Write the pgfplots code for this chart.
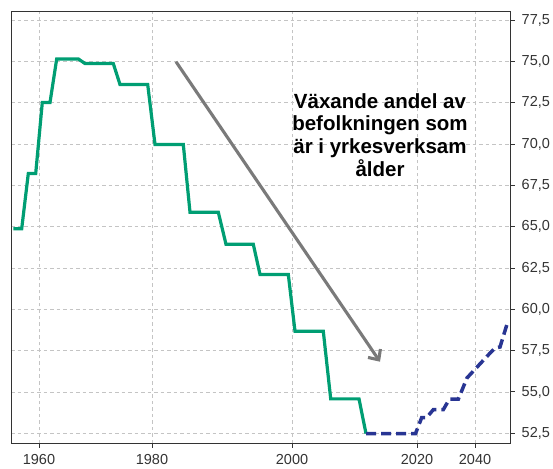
\documentclass[border=0pt]{standalone}
\usepackage{fontspec}
\setmainfont{Liberation Sans}
\usepackage{pgfplots}
\pgfplotsset{compat=1.18}
\usetikzlibrary{arrows.meta}
\definecolor{lgreen}{HTML}{009E73}
\definecolor{lblue}{HTML}{283593}
\definecolor{gridc}{HTML}{C4C4C4}
\definecolor{axc}{HTML}{333333}
\definecolor{arrc}{HTML}{7A7A7A}
\begin{document}
\begin{tikzpicture}
\begin{axis}[
  scale only axis, width=499pt, height=431pt,
  xmin=11, xmax=510, ymin=51.91, ymax=78.0,
  xtick={39,152,292,417,475},
  xticklabels={1960,1980,2000,2020,2040},
  ytick={52.5,55,57.5,60,62.5,65,67.5,70,72.5,75,77.5},
  xtick pos=bottom, ytick pos=right, yticklabel pos=right,
  tick align=outside, major tick length=4.5pt,
  tick style={axc, line width=1pt},
  axis line style={axc, line width=1pt},
  grid=major,
  major grid style={gridc, dash pattern=on 3.5pt off 3pt, line width=0.9pt},
  ticklabel style={font=\fontsize{14.5}{17}\selectfont, text=axc},
  /pgf/number format/assume math mode=true,
  yticklabel style={/pgf/number format/.cd, fixed, fixed zerofill, precision=1, use comma, /tikz/.cd, anchor=west, inner sep=0pt, xshift=7pt},
  xticklabel style={anchor=north, inner sep=0pt, yshift=-7pt},
]
\addplot[lgreen, line width=3.2pt] coordinates {
(13.3,64.88) (21.7,64.88) (28.3,68.22) (35.7,68.22) (42.3,72.52) (50,72.52)
(56.7,75.16) (78.3,75.16) (85,74.88) (113.3,74.88) (120,73.61) (147.7,73.61)
(155,69.98) (183.3,69.98) (190,65.88) (218.3,65.88) (226,63.94) (253.3,63.94)
(260,62.11) (288.3,62.11) (295,58.67) (323.3,58.67) (330.7,54.58) (359,54.58)
(366,52.48)
};
\addplot[lblue, line width=3.5pt, dash pattern=on 10pt off 5pt] coordinates {
(366,52.48) (415.5,52.48) (421.7,53.45) (426.7,53.45) (433.3,53.93) (443.3,53.93)
(449.3,54.56) (458.3,54.56) (467,55.85) (490,57.35) (495,57.65) (500,57.72) (507,59.1)
};
\draw[arrc, line width=3.1pt, -{Straight Barb[length=8pt, width=15pt]}] (axis cs:176,74.99) -- (axis cs:380,56.83);
\node[font=\fontsize{20.5}{22.8}\selectfont\bfseries, align=center, inner sep=0pt, text=black] at (axis cs:380,70.56) {Växande andel av\\befolkningen som\\är i yrkesverksam\\ålder};
\end{axis}
\pgfresetboundingbox
\path[use as bounding box] (-11pt,-25pt) rectangle (542pt,443pt);
\end{tikzpicture}
\end{document}
